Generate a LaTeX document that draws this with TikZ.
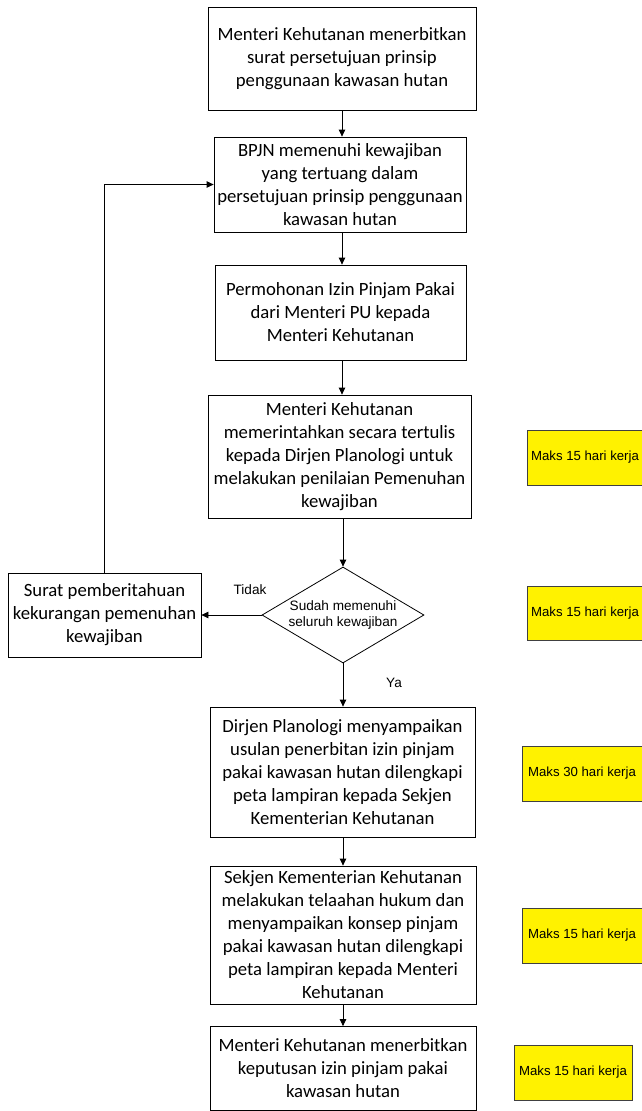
\documentclass[tikz,border=0pt]{standalone}
\usepackage{fontspec}
\setmainfont{Carlito}
\newfontfamily\arialf{Liberation Sans}
\usetikzlibrary{shapes.geometric,arrows.meta}
\begin{document}
\begin{tikzpicture}[x=1pt,y=-1pt,
  box/.style={draw=black,line width=0.8pt,align=center,inner sep=1pt,font=\fontsize{18.7}{23}\selectfont},
  ybox/.style={draw=black!75,line width=0.8pt,fill=yellow,align=center,inner sep=1pt,font=\arialf\fontsize{13.2}{15}\selectfont},
  arr/.style={line width=0.8pt,-{Triangle[length=7pt,width=6.5pt]}},
  lbl/.style={font=\arialf\fontsize{13.6}{15}\selectfont,inner sep=0pt}]
\useasboundingbox (0,0) rectangle (641,1111);
\node[box,minimum width=268pt,minimum height=103pt] (b1) at (342,58.5)
  {Menteri Kehutanan menerbitkan\\surat persetujuan prinsip\\penggunaan kawasan hutan};
\node[box,minimum width=252pt,minimum height=95pt] (b2) at (340,184.5)
  {BPJN memenuhi kewajiban\\yang tertuang dalam\\persetujuan prinsip penggunaan\\kawasan hutan};
\node[box,minimum width=251pt,minimum height=95pt] (b3) at (340.5,312.5)
  {Permohonan Izin Pinjam Pakai\\dari Menteri PU kepada\\Menteri Kehutanan};
\node[box,minimum width=263pt,minimum height=123pt] (b4) at (339.5,456.5)
  {Menteri Kehutanan\\memerintahkan secara tertulis\\kepada Dirjen Planologi untuk\\melakukan penilaian Pemenuhan\\kewajiban};
\node[draw=black,line width=0.8pt,diamond,aspect=1.69,inner sep=0pt,minimum width=162pt,minimum height=96pt,align=center,font=\arialf\fontsize{13.6}{16}\selectfont] (d) at (343,615)
  {Sudah memenuhi\\seluruh kewajiban};
\node[box,minimum width=193pt,minimum height=84pt] (bl) at (104.5,615)
  {Surat pemberitahuan\\kekurangan pemenuhan\\kewajiban};
\node[box,minimum width=265pt,minimum height=130pt] (b5) at (342.5,772)
  {Dirjen Planologi menyampaikan\\usulan penerbitan izin pinjam\\pakai kawasan hutan dilengkapi\\peta lampiran kepada Sekjen\\Kementerian Kehutanan};
\node[box,minimum width=266pt,minimum height=138pt] (b6) at (343,935)
  {Sekjen Kementerian Kehutanan\\melakukan telaahan hukum dan\\menyampaikan konsep pinjam\\pakai kawasan hutan dilengkapi\\peta lampiran kepada Menteri\\Kehutanan};
\node[box,minimum width=266pt,minimum height=84pt] (b7) at (343,1068.5)
  {Menteri Kehutanan menerbitkan\\keputusan izin pinjam pakai\\kawasan hutan};
\node[ybox,minimum width=116pt,minimum height=55pt] (y1) at (585,457.5) {Maks 15 hari kerja};
\node[ybox,minimum width=116pt,minimum height=54pt] (y2) at (585,613) {Maks 15 hari kerja};
\node[ybox,minimum width=120pt,minimum height=55pt] (y3) at (582,773.5) {Maks 30 hari kerja};
\node[ybox,minimum width=120pt,minimum height=55pt] (y4) at (582,935.5) {Maks 15 hari kerja};
\node[ybox,minimum width=118pt,minimum height=55pt] (y5) at (573,1072.5) {Maks 15 hari kerja};
\draw[arr] (b1.south) -- (b1.south |- b2.north);
\draw[arr] (b2.south -| b1.south) -- (b1.south |- b3.north);
\draw[arr] (b3.south -| b1.south) -- (b1.south |- b4.north);
\draw[arr] (b4.south -| d.north) -- (d.north);
\draw[arr] (d.west) -- (bl.east);
\coordinate (c1) at (bl.north |- b2.west);
\draw[arr] (bl.north) -- (c1) -- (b2.west);
\draw[arr] (d.south) -- (d.south |- b5.north);
\draw[arr] (b5.south -| d.south) -- (d.south |- b6.north);
\draw[arr] (b6.south -| d.south) -- (d.south |- b7.north);
\node[lbl] (tidak) at (250,590) {Tidak};
\node[lbl] (ya) at (394,683) {Ya};
\end{tikzpicture}
\end{document}
